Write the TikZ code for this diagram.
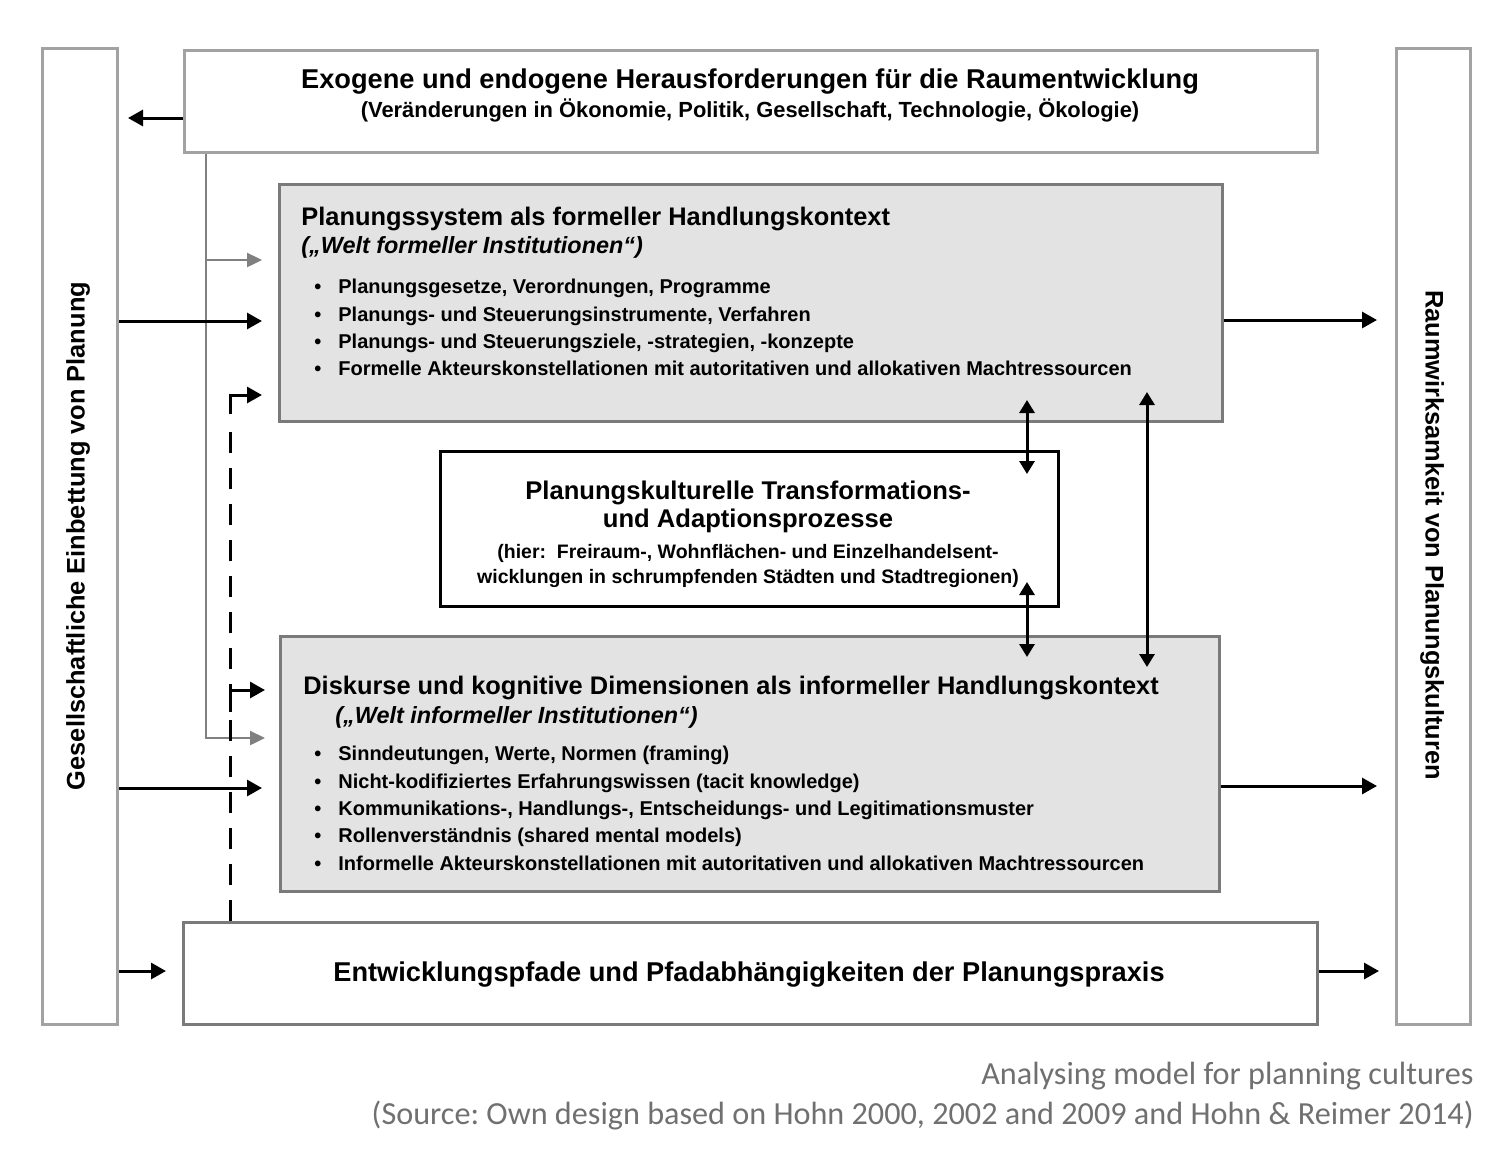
\documentclass[tikz,border=0pt]{standalone}
\usepackage{fontspec}
\setmainfont{Liberation Sans}
\newfontfamily\capfont{Carlito}
\usepackage{tikz}
\usetikzlibrary{arrows.meta,positioning}

\definecolor{boxgray}{HTML}{E3E3E3}
\definecolor{framegray}{HTML}{A2A2A2}
\definecolor{edgegray}{HTML}{7A7A7A}
\definecolor{linkgray}{HTML}{808080}
\definecolor{capgray}{HTML}{707070}

\newcommand\bigheadfont{\fontsize{13.6pt}{15pt}\selectfont\bfseries}
\newcommand\headfont{\fontsize{12.7pt}{14pt}\selectfont\bfseries}
\newcommand\subfont{\fontsize{10.95pt}{12.5pt}\selectfont\bfseries}
\newcommand\instfont{\fontsize{11.7pt}{13pt}\selectfont\bfseries\itshape}
\newcommand\listfont{\fontsize{10pt}{13.65pt}\selectfont\bfseries}
\newcommand\bul{\makebox[12pt][l]{•}}
\frenchspacing

\begin{document}
\begin{tikzpicture}[x=0.5pt, y=-0.5pt,
  every node/.style={inner sep=0pt},
  sidebox/.style={draw=framegray, fill=white, line width=1.5pt, anchor=north west},
  plainbox/.style={draw=framegray, fill=white, line width=1.5pt, anchor=north west},
  greybox/.style={draw=edgegray, fill=boxgray, line width=1.5pt, anchor=north west},
  arr/.style={-{Triangle[length=7.5pt, width=8pt]}, line width=1.5pt},
  garr/.style={-{Triangle[length=7.5pt, width=7pt]}, linkgray, line width=1.2pt},
  darr/.style={line width=1.5pt, dash pattern=on 10.5pt off 7.5pt},
  both/.style={{Triangle[length=6.5pt, width=7.5pt]}-{Triangle[length=6.5pt, width=7.5pt]}, line width=1.5pt},
  capline/.style={font=\capfont\fontsize{16.1pt}{18pt}\selectfont, text=capgray, anchor=east}]

\useasboundingbox (0,0) rectangle (1503,1152);

% Side frames
\node[sidebox, minimum width=37.5pt, minimum height=488pt] (embed) at (41,47) {};
\node[sidebox, minimum width=37pt, minimum height=488pt] (effect) at (1395,47) {};
\node[font=\headfont, rotate=90] (embedtxt) at (78,536) {Gesellschaftliche Einbettung von Planung};
\node[font=\headfont, rotate=-90] (effecttxt) at (1432,535) {Raumwirksamkeit von Planungskulturen};

% Challenges (top)
\node[plainbox, minimum width=566.5pt, minimum height=51pt] (exo) at (183,49) {};
\node[font=\bigheadfont] (exotitle) at (750,82) {Exogene und endogene Herausforderungen für die Raumentwicklung};
\node[font=\subfont] (exosub) at (750,110) {(Veränderungen in Ökonomie, Politik, Gesellschaft, Technologie, Ökologie)};

% Formal context
\node[greybox, minimum width=471.5pt, minimum height=118.5pt] (formal) at (278,183) {};
\node[font=\headfont, anchor=west] (formaltitle) at (301,219) {Planungssystem als formeller Handlungskontext};
\node[font=\instfont, anchor=west] (formalsub) at (301,247) {(„Welt formeller Institutionen“)};
\node[font=\listfont, align=left, anchor=north west] (formallist) at (314,279) {%
  \bul Planungsgesetze, Verordnungen, Programme\\
  \bul Planungs- und Steuerungsinstrumente, Verfahren\\
  \bul Planungs- und Steuerungsziele, -strategien, -konzepte\\
  \bul Formelle Akteurskonstellationen mit autoritativen und allokativen Machtressourcen};

% Transformation processes
\node[draw, line width=1.5pt, fill=white, anchor=north west, minimum width=309pt, minimum height=77.5pt] (trans) at (439,450) {};
\node[font=\fontsize{12.8pt}{14pt}\selectfont\bfseries, align=center] (transtitle) at (748,507) {Planungskulturelle Transformations-\\und Adaptionsprozesse};
\node[font=\fontsize{9.75pt}{12.5pt}\selectfont\bfseries, align=center] (transsub) at (748,566) {(hier:\ \ Freiraum-, Wohnflächen- und Einzelhandelsent-\\wicklungen in schrumpfenden Städten und Stadtregionen)};

% Informal context
\node[greybox, minimum width=469.5pt, minimum height=127.5pt] (informal) at (279,635) {};
\node[font=\headfont, anchor=west] (informaltitle) at (303,688) {Diskurse und kognitive Dimensionen als informeller Handlungskontext};
\node[font=\instfont, anchor=west] (informalsub) at (335,717) {(„Welt informeller Institutionen“)};
\node[font=\listfont, align=left, anchor=north west] (informallist) at (314,746) {%
  \bul Sinndeutungen, Werte, Normen (framing)\\
  \bul Nicht-kodifiziertes Erfahrungswissen (tacit knowledge)\\
  \bul Kommunikations-, Handlungs-, Entscheidungs- und Legitimationsmuster\\
  \bul Rollenverständnis (shared mental models)\\
  \bul Informelle Akteurskonstellationen mit autoritativen und allokativen Machtressourcen};

% Path dependencies (bottom)
\node[draw=edgegray, fill=white, line width=1.5pt, anchor=north west, minimum width=567pt, minimum height=51pt] (paths) at (182,921) {};
\node[font=\bigheadfont] (pathstxt) at (749,975) {Entwicklungspfade und Pfadabhängigkeiten der Planungspraxis};

% Caption
\node[capline] (cap1) at (1474,1076) {Analysing model for planning cultures};
\node[capline] (cap2) at (1474,1115) {(Source: Own design based on Hohn 2000, 2002 and 2009 and Hohn \& Reimer 2014)};

% Arrow ends
\coordinate (exoout) at (128,118);
\coordinate (gin1) at (262,260);
\coordinate (gin2) at (265,738);
\coordinate (in1) at (262,321);
\coordinate (in2) at (262,788);
\coordinate (in3) at (166,971);
\coordinate (out1) at (1377,320);
\coordinate (out2) at (1377,786);
\coordinate (out3) at (1379,971);
\coordinate (din1) at (262,395);
\coordinate (din2) at (265,690);
\coordinate (dtop) at (230,418);
\coordinate (dbr) at (230,712);

% Connectors
\draw[arr] (exo.west |- exoout) -- (exoout);
\draw[garr] ([xshift=11.5pt]exo.south west) |- (gin2);
\draw[garr] ([xshift=11.5pt]exo.south west |- gin1) -- (gin1);
\draw[arr] (embed.east |- in1) -- (in1);
\draw[arr] (embed.east |- in2) -- (in2);
\draw[arr] (embed.east |- in3) -- (in3);
\draw[arr] (formal.east |- out1) -- (out1);
\draw[arr] (informal.east |- out2) -- (out2);
\draw[arr] (paths.east |- out3) -- (out3);
\draw[darr] ([xshift=24pt]paths.north west) -- (dtop);
\draw[arr] ([yshift=2pt]dtop) |- (din1);
\draw[arr] (dbr) |- (din2);
\draw[both] (1027,400) -- (1027,474);
\draw[both] (1027,582) -- (1027,657);
\draw[both] (1147,392) -- (1147,667);

\end{tikzpicture}
\end{document}
